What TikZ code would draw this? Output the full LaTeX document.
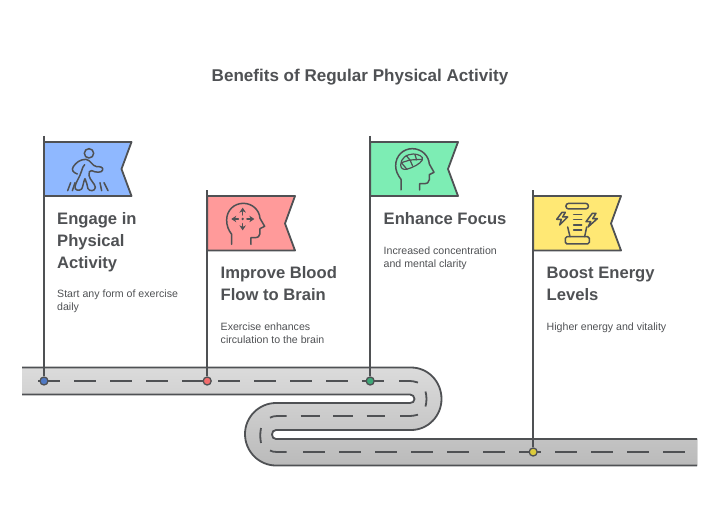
\documentclass[tikz,border=0pt]{standalone}
\usepackage{fontspec}
\usetikzlibrary{arrows.meta}
\setmainfont{Liberation Sans}
\definecolor{ink}{HTML}{4F5154}
\definecolor{bluef}{HTML}{8FB8FF}
\definecolor{redf}{HTML}{FF9A9A}
\definecolor{greenf}{HTML}{7DEDB4}
\definecolor{yellowf}{HTML}{FFE874}
\definecolor{pinblue}{HTML}{4F79C4}
\definecolor{pinred}{HTML}{F26D6D}
\definecolor{pingreen}{HTML}{3FA878}
\definecolor{pinyellow}{HTML}{DCCB3C}
\tikzset{
  pole/.style={draw=ink,line width=1.9pt},
  flagshape/.style={draw=ink,line width=1.8pt,line join=round},
  edge/.style={draw=ink,line width=1.8pt},
  lane/.style={draw=ink,line width=1.8pt},
  pin/.style={circle,draw=ink,line width=1.3pt,minimum size=8pt,inner sep=0pt},
  icon/.style={draw=ink,line width=1.5pt,line cap=round,line join=round},
  heading/.style={anchor=north west,inner sep=0pt,align=left,text=ink,font=\fontsize{16.6}{22}\selectfont\bfseries},
  body/.style={anchor=north west,inner sep=0pt,align=left,text=ink,font=\fontsize{10.6}{12.6}\selectfont},
  title/.style={inner sep=0pt,text=ink,font=\fontsize{17.05}{20}\selectfont\bfseries}
}
\begin{document}
\begin{tikzpicture}[x=1pt,y=-1pt]
\useasboundingbox (0,0) rectangle (720,524);
\node[title] (ttl) at (360,77) {Benefits of Regular Physical Activity};
% road
\fill[top color=black!14,bottom color=black!27,shading angle=0]
 (22,367.5) -- (411,367.5) .. controls (428,367.5) and (441.5,381.5) .. (441.5,399)
 .. controls (441.5,416) and (428,430) .. (411,430) -- (276,430)
 .. controls (273.5,430) and (272,432) .. (272,434.5) .. controls (272,437) and (273.5,439) .. (276,439)
 -- (697,439) -- (697,465.5) -- (276,465.5)
 .. controls (259,465.5) and (245,451.5) .. (245,434) .. controls (245,417) and (259,403) .. (276,403)
 -- (410,403) .. controls (412.5,403) and (414.5,401.5) .. (414.5,399) .. controls (414.5,396.5) and (412.5,394.5) .. (410,394.5)
 -- (22,394.5) -- cycle;
\path[edge]
 (22,367.5) -- (411,367.5) .. controls (428,367.5) and (441.5,381.5) .. (441.5,399)
 .. controls (441.5,416) and (428,430) .. (411,430) -- (276,430)
 .. controls (273.5,430) and (272,432) .. (272,434.5) .. controls (272,437) and (273.5,439) .. (276,439)
 -- (697,439);
\path[edge]
 (697,465.5) -- (276,465.5)
 .. controls (259,465.5) and (245,451.5) .. (245,434) .. controls (245,417) and (259,403) .. (276,403)
 -- (410,403) .. controls (412.5,403) and (414.5,401.5) .. (414.5,399) .. controls (414.5,396.5) and (412.5,394.5) .. (410,394.5)
 -- (22,394.5);
% lane markings
\foreach \a in {38,74,...,362} \path[lane] (\a,381) -- ++(21.5,0);
\foreach \a in {303,339,...,663} \path[lane] (\a,452) -- ++(21.5,0);
\foreach \a/\b in {300.7/320,333/353,366.7/385} \path[lane] (\a,416) -- (\b,416);
\path[lane] (399,381) -- (408,381) .. controls (412,381) and (415,381.5) .. (418,382.5);
\path[lane] (425.5,391.5) .. controls (426.8,396) and (426.8,402) .. (425.5,406.5);
\path[lane] (418,414.7) .. controls (415,415.6) and (412,416) .. (408,416) -- (400,416);
\path[lane] (270,417.7) .. controls (272,416.7) and (274,416) .. (277,416) -- (286.7,416);
\path[lane] (261,428) .. controls (260,433) and (260,438) .. (261,443);
\path[lane] (270,450.5) .. controls (272,451.5) and (274,452) .. (277,452) -- (286.7,452);
% pins
\node[pin,fill=pinblue] (p1) at (44,381) {};
\node[pin,fill=pinred] (p2) at (207.2,381) {};
\node[pin,fill=pingreen] (p3) at (370.2,381) {};
\node[pin,fill=pinyellow] (p4) at (533.2,452) {};
\coordinate (t1) at (44,136);
\coordinate (t2) at (207.2,190);
\coordinate (t3) at (370.2,136);
\coordinate (t4) at (533.2,190);
\draw[pole] (t1) -- (p1.north);
\draw[pole] (t2) -- (p2.north);
\draw[pole] (t3) -- (p3.north);
\draw[pole] (t4) -- (p4.north);
% flags
\path[flagshape,fill=bluef] (44,142) -- (131.5,142) -- (121.5,169) -- (131.5,196) -- (44,196) -- cycle;
\path[flagshape,fill=redf] (207.2,196) -- (295,196) -- (285,223.5) -- (295,250.5) -- (207.2,250.5) -- cycle;
\path[flagshape,fill=greenf] (370.2,142) -- (458,142) -- (448,169) -- (458,196) -- (370.2,196) -- cycle;
\path[flagshape,fill=yellowf] (533.2,196) -- (621,196) -- (611,223.5) -- (621,250.5) -- (533.2,250.5) -- cycle;
% icon 1: walking person
\begin{scope}[shift={(20,130)},x=.3333pt,y=-.3333pt]
\draw[icon] (207,70) circle[radius=14];
\draw[icon] (172,132) .. controls (160,128) and (153,120) .. (160,110)
 .. controls (168,98) and (180,88) .. (198,88) .. controls (212,90) and (216,108) .. (230,110)
 .. controls (240,109) and (251,112) .. (248,120) .. controls (245,129) and (228,128) .. (215,122)
 .. controls (209,119) and (206,128) .. (207,136) .. controls (209,150) and (226,162) .. (226,172)
 .. controls (226,184) and (208,185) .. (204,176) .. controls (201,166) and (200,155) .. (195,146)
 .. controls (190,155) and (190,168) .. (185,177) .. controls (178,184) and (163,181) .. (165,170)
 .. controls (168,155) and (180,140) .. (184,125) .. controls (186,115) and (190,108) .. (194,104);
\draw[icon] (152,158) -- (143,182) (165,158) -- (157,182) (240,158) -- (245,182) (252,158) -- (264,182);
\end{scope}
% icon 2: head with arrows
\begin{scope}[shift={(195,185)},x=.3333pt,y=-.3333pt]
\draw[icon] (110,178) -- (110,148) .. controls (100,135) and (95,122) .. (95,105)
 .. controls (95,75) and (118,55) .. (145,55) .. controls (172,55) and (193,75) .. (195,100)
 -- (209,124) -- (195,131) -- (195,146) .. controls (195,155) and (188,158) .. (178,158)
 -- (168,158) -- (168,178);
\fill[ink] (143,102) circle[radius=4];
\draw[icon,-{Stealth[length=5pt,width=6.5pt]}] (143,90) -- (143,68);
\draw[icon,-{Stealth[length=5pt,width=6.5pt]}] (143,116) -- (143,136);
\draw[icon,-{Stealth[length=5pt,width=6.5pt]}] (130,102) -- (109,102);
\draw[icon,-{Stealth[length=5pt,width=6.5pt]}] (156,102) -- (178,102);
\end{scope}
% icon 3: head with brain
\begin{scope}[shift={(360,130)},x=.3333pt,y=-.3333pt]
\draw[icon] (123,180) -- (123,148) .. controls (113,135) and (107,122) .. (107,107)
 .. controls (107,77) and (130,56) .. (157,56) .. controls (185,56) and (206,77) .. (208,102)
 -- (222,127) -- (208,134) -- (208,149) .. controls (208,158) and (201,161) .. (191,161)
 -- (179,161) -- (179,180);
\draw[icon,line width=1.2pt] (122,105) .. controls (122,85) and (140,72) .. (160,72)
 .. controls (175,72) and (192,80) .. (187,90) .. controls (180,102) and (160,112) .. (140,118)
 .. controls (130,120) and (122,115) .. (122,105) -- cycle;
\draw[icon,line width=1.2pt] (124,98) -- (150,90) -- (186,88) (150,90) -- (158,108) (138,76) -- (150,90)
 (124,98) -- (140,117) (165,74) -- (170,90);
\end{scope}
% icon 4: energy
\begin{scope}[shift={(520,185)},x=.3333pt,y=-.3333pt]
\draw[icon] (146,55) -- (197,55) .. controls (208,55) and (208,72) .. (197,72) -- (146,72) .. controls (135,72) and (135,55) .. (146,55) -- cycle;
\draw[icon] (161,89) -- (185,89) (161,104) -- (185,104) (161,120) -- (185,120) (161,135) -- (185,135);
\draw[icon] (141,155) -- (203,155) -- (208,160) -- (208,172) -- (203,177) -- (141,177) -- (136,172) -- (136,160) -- cycle;
\draw[icon] (143,126) -- (150,155) (200,126) -- (194,155);
\draw[icon] (126,82) -- (110,103) -- (124,103) -- (119,120) -- (143,96) -- (128,96) -- (136,82) -- cycle;
\draw[icon] (217,85) -- (198,110) -- (212,110) -- (204,126) -- (232,101) -- (218,101) -- (228,85) -- cycle;
\end{scope}
% text
\node[heading] (h1) at (57,212) {Engage in\\Physical\\Activity};
\node[heading] (h2) at (220.5,266.5) {Improve Blood\\Flow to Brain};
\node[heading] (h3) at (383.5,212) {Enhance Focus};
\node[heading] (h4) at (546.5,266.5) {Boost Energy\\Levels};
\node[body] (b1) at (57,290) {Start any form of exercise\\daily};
\node[body] (b2) at (220.5,323) {Exercise enhances\\circulation to the brain};
\node[body] (b3) at (383.5,247) {Increased concentration\\and mental clarity};
\node[body] (b4) at (546.5,323) {Higher energy and vitality};
\end{tikzpicture}
\end{document}
